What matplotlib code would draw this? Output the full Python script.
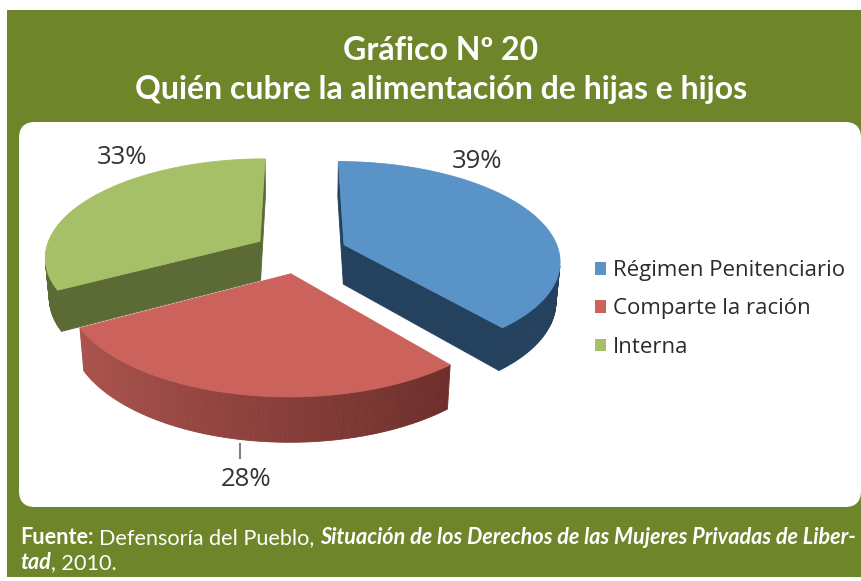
import numpy as np
import matplotlib
matplotlib.use('Agg')
import matplotlib.pyplot as plt
from matplotlib.patches import Polygon, FancyBboxPatch, Rectangle, Patch
from matplotlib.colors import to_rgb

# ---------------- data ----------------
labels = ['Régimen Penitenciario', 'Comparte la ración', 'Interna']
values = [39, 28, 33]
pct_labels = ['39%', '28%', '33%']
top_colors = ['#5A93C8', '#CB625B', '#A6C068']
wall_light = ['#24415E', '#B0564F', '#5C6B35']
wall_dark = ['#24415E', '#5E2523', '#5C6B35']
title_lines = ['Gráfico Nº 20', 'Quién cubre la alimentación de hijas e hijos']
source_line1 = [('Fuente:', 'bold', 'normal'), ('Defensoría del Pueblo,', 'normal', 'normal'),
                ('Situación de los Derechos de las Mujeres Privadas de Liber-', 'bold', 'italic')]
source_line2 = [('tad', 'bold', 'italic'), (', 2010.', 'normal', 'normal')]

GREEN = '#6F8529'
W, H = 862, 581
fig = plt.figure(figsize=(W / 100, H / 100), dpi=100)
ax = fig.add_axes([0, 0, 1, 1])
ax.set_xlim(0, W)
ax.set_ylim(H, 0)
ax.axis('off')
renderer = fig.canvas.get_renderer()

# background + panel
ax.add_patch(Rectangle((7, 10), W - 7, 567, facecolor=GREEN, edgecolor='none', zorder=0))
ax.add_patch(FancyBboxPatch((19, 122), 842, 385, boxstyle='round,pad=0,rounding_size=16',
                            facecolor='white', edgecolor='none', zorder=1))

TFONT = ['Lato', 'DejaVu Sans']


def fit_size(txt, target, **kw):
    t = ax.text(0, 0, txt, fontsize=20, **kw)
    w = t.get_window_extent(renderer).width
    t.remove()
    return 20 * target / w


tsize = fit_size(title_lines[1], 613, family=TFONT, fontweight='bold')
for i, line in enumerate(title_lines):
    ax.text(441, 60 + 39 * i, line, color='white', fontsize=tsize, fontweight='bold',
            family=TFONT, ha='center', va='baseline', zorder=5)

# ---------------- 3D pie ----------------
alpha = np.deg2rad(27)
Dcam, fcam = 6.0, 1290.0
cx, cy = 300, 252
explode, thick = 0.22, 0.21
cam = np.array([0.0, -Dcam * np.cos(alpha), Dcam * np.sin(alpha)])


def proj(X, Y, Z):
    d = Dcam + Y * np.cos(alpha) - Z * np.sin(alpha)
    v = Y * np.sin(alpha) + Z * np.cos(alpha)
    return cx + fcam * X / d, cy - fcam * v / d


def visible(P, n):
    return np.dot(cam - np.asarray(P), np.asarray(n)) > 0


vals = np.array(values, dtype=float)
frac = vals / vals.sum()
starts = 90 - 360 * np.concatenate([[0], np.cumsum(frac)[:-1]])
ends = starts - 360 * frac

slices = []
for i in range(len(values)):
    t0, t1 = np.deg2rad(starts[i]), np.deg2rad(ends[i])
    mid = (t0 + t1) / 2
    ox, oy = explode * np.cos(mid), explode * np.sin(mid)
    slices.append((oy, i, t0, t1, ox))

for oy, i, t0, t1, ox in sorted(slices, reverse=True):
    th = np.linspace(t0, t1, 160)
    z = 2 + (1 - oy) * 0.1
    lt, dk = np.array(to_rgb(wall_light[i])), np.array(to_rgb(wall_dark[i]))
    for tt, nrm_ang in ((t0, t0 + np.pi / 2), (t1, t1 - np.pi / 2)):
        n = (np.cos(nrm_ang), np.sin(nrm_ang), 0)
        if visible((ox, oy, 0), n):
            pts = [proj(ox, oy, 0), proj(ox + np.cos(tt), oy + np.sin(tt), 0),
                   proj(ox + np.cos(tt), oy + np.sin(tt), -thick), proj(ox, oy, -thick)]
            ax.add_patch(Polygon(pts, closed=True, facecolor=dk, edgecolor=dk, lw=0.6, zorder=z))
    for j in range(len(th) - 1):
        tm = (th[j] + th[j + 1]) / 2
        P = (ox + np.cos(tm), oy + np.sin(tm), 0)
        if not visible(P, (np.cos(tm), np.sin(tm), 0)):
            continue
        s = (np.cos(tm) + 1) / 2
        col = lt * (1 - s) + dk * s
        pts = [proj(ox + np.cos(th[j]), oy + np.sin(th[j]), 0),
               proj(ox + np.cos(th[j + 1]), oy + np.sin(th[j + 1]), 0),
               proj(ox + np.cos(th[j + 1]), oy + np.sin(th[j + 1]), -thick),
               proj(ox + np.cos(th[j]), oy + np.sin(th[j]), -thick)]
        ax.add_patch(Polygon(pts, closed=True, facecolor=col, edgecolor=col, lw=0.6, zorder=z))
    pts = [proj(ox, oy, 0)] + [proj(ox + np.cos(t), oy + np.sin(t), 0) for t in th]
    ax.add_patch(Polygon(pts, closed=True, facecolor=top_colors[i], edgecolor=top_colors[i],
                         lw=0.6, zorder=z + 0.01))

LFONT = ['Open Sans', 'DejaVu Sans']
pct_pos = [(477, 161), (246, 479), (122, 158)]
for (x, y), s in zip(pct_pos, pct_labels):
    ax.text(x, y, s, fontsize=18.5, family=LFONT, color='#333333', ha='center', va='center', zorder=6)
ax.plot([240, 240], [444, 458], color='#7F7F7F', lw=1.5, zorder=6)

handles = [Patch(facecolor=c, edgecolor='none') for c in top_colors]
leg = ax.legend(handles, labels, loc='center left', bbox_to_anchor=(595 / W, 1 - 309 / H),
                bbox_transform=fig.transFigure, frameon=False,
                prop={'family': LFONT, 'size': 16}, handlelength=0.5, handleheight=0.5,
                handletextpad=0.3, labelspacing=0.78, borderaxespad=0, borderpad=0)
for t in leg.get_texts():
    t.set_color('#2B2B2B')
leg.set_zorder(7)

# ---------------- source ----------------
SFONT = ['Lato', 'DejaVu Sans']


def runs(parts, x, y, size, measure_only=False):
    sp1 = ax.text(0, 0, 'a a', fontsize=size, family=SFONT)
    sp2 = ax.text(0, 0, 'aa', fontsize=size, family=SFONT)
    space = sp1.get_window_extent(renderer).width - sp2.get_window_extent(renderer).width
    sp1.remove(); sp2.remove()
    x0 = x
    for k, (txt, wgt, sty) in enumerate(parts):
        t = ax.text(x, y, txt, color='white', fontsize=size, fontweight=wgt, fontstyle=sty,
                    family=SFONT, ha='left', va='baseline', zorder=6)
        x += t.get_window_extent(renderer).width
        if measure_only:
            t.remove()
        if k + 1 < len(parts) and not parts[k + 1][0].startswith(','):
            x += space
    return x - x0


w20 = runs(source_line1, 20, 544, 14, measure_only=True)
ssize = 14 * 836 / w20
runs(source_line1, 20, 544, ssize)
runs(source_line2, 20, 569, ssize)

fig.savefig('out.png', dpi=100)
